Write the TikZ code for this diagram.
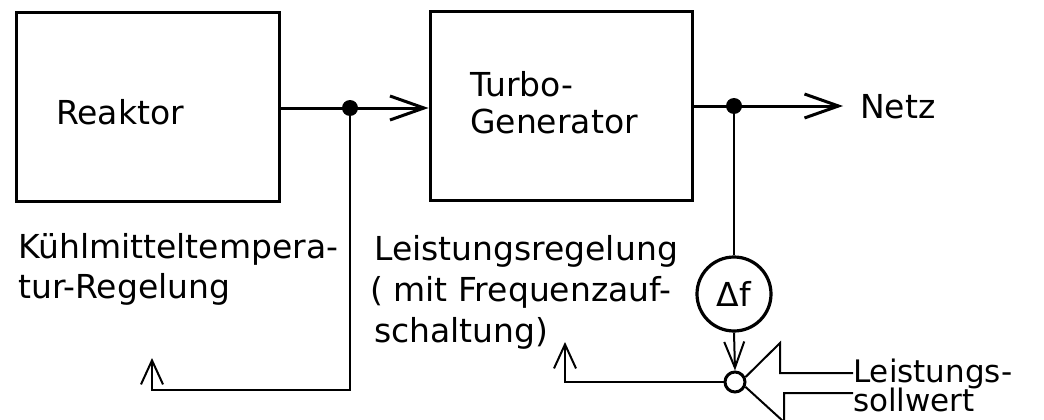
\documentclass[tikz,border=0pt]{standalone}
\usepackage{fontspec}
\setmainfont{DejaVu Sans}
\usetikzlibrary{arrows.meta}
\begin{document}
\begin{tikzpicture}[x=1pt,y=-1pt,
  blockbox/.style={draw, line width=3pt, rectangle, inner sep=0pt},
  lbl/.style={anchor=base west, inner sep=0pt, font=\fontsize{33}{41}\selectfont},
  smalllbl/.style={anchor=base west, inner sep=0pt, font=\fontsize{31}{36}\selectfont},
  mainline/.style={line width=3pt, line cap=round},
  fbline/.style={line width=2pt},
  joint/.style={circle, fill, inner sep=0pt, minimum size=16pt},
  bigtip/.style={-{Straight Barb[length=34pt,width=24pt]}},
  midtip/.style={-{Straight Barb[length=26pt,width=20pt]}},
  smalltip/.style={-{Straight Barb[length=24pt,width=22pt]}},
]
% canvas
\fill[white] (0,0) rectangle (1044,420);
\useasboundingbox (0,0) rectangle (1044,420);

% blocks
\node[blockbox, minimum width=263pt, minimum height=188pt] (reaktor) at (147.5,107) {};
\node[lbl] (reaktortxt) at (56,124) {Reaktor};
\node[blockbox, minimum width=262pt, minimum height=188pt] (turbo) at (561,106) {};
\node[lbl] (turbotxt1) at (470,96) {Turbo-};
\node[lbl] (turbotxt2) at (470,133) {Generator};

% branch points
\node[joint] (j1) at (350,108) {};
\node[joint] (j2) at (734,106) {};

% output
\node[lbl] (netz) at (860,118) {Netz};
\coordinate (netzin) at (843,106);

% controllers
\node[draw, circle, line width=3.2pt, minimum size=74pt, inner sep=0pt,
      font=\fontsize{33}{41}\selectfont] (df) at (734,294) {Δf};
\node[draw, circle, line width=3pt, minimum size=20pt, inner sep=0pt] (sum) at (735,382) {};

% labels
\node[lbl] (kt1) at (18,258) {Kühlmitteltempera-};
\node[lbl] (kt2) at (18,298) {tur-Regelung};
\node[lbl] (lr1) at (374,260) {Leistungsregelung};
\node[lbl] (lr2) at (370,301) {( mit Frequenzauf-};
\node[lbl] (lr3) at (374,342) {schaltung)};
\node[smalllbl] (sw1) at (853,382) {Leistungs-};
\node[smalllbl] (sw2) at (853,411) {sollwert};

% feedback arrow ends
\coordinate (fb1) at (152,358);
\coordinate (fb2) at (565,342);

% main power path
\draw[mainline, bigtip] (reaktor.east |- j1) -- (turbo.west |- j1);
\draw[mainline, bigtip] (turbo.east |- j2) -- (netzin);

% measurement and setpoint path
\draw[fbline] (j2) -- (df.north);
\draw[fbline, midtip] (df.south) -- (sum.north);

% feedback lines
\draw[fbline, smalltip] (j1) -- (j1 |- 0,390) -| (fb1);
\draw[fbline, smalltip] (sum.west) -| (fb2);

% hollow setpoint arrow
\draw[line width=2pt, line join=miter]
  (sw1.west |- 0,373) -- (780,373) -- (780,343) -- (sum.25);
\draw[line width=2pt, line join=miter]
  (sw1.west |- 0,393) -- (784,393) -- (784,422) -- (sum.-25);
\end{tikzpicture}
\end{document}
